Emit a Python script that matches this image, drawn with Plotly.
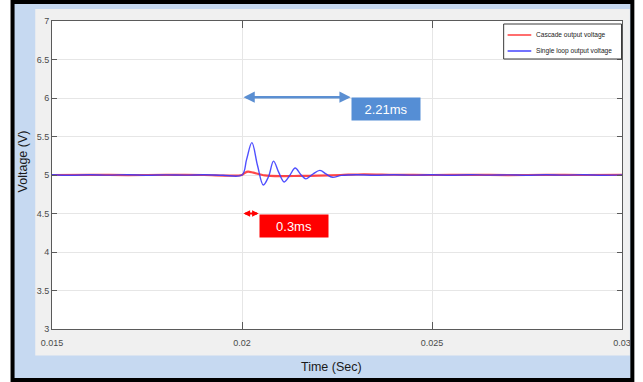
import plotly.graph_objects as go

# ---------------- data ----------------
t_single = [0.0150, 0.0155, 0.0160, 0.0165, 0.0170, 0.0175, 0.0180, 0.0185, 0.0190, 0.0195,
            0.02000, 0.02012, 0.02026, 0.02041, 0.02056, 0.02070, 0.02083, 0.02097, 0.02111,
            0.02125, 0.02140, 0.02154, 0.02168, 0.02186, 0.02205, 0.02222, 0.02238, 0.02262,
            0.0230, 0.0235, 0.0240, 0.0245, 0.0250, 0.0255, 0.0260, 0.0265, 0.0270, 0.0275,
            0.0280, 0.0285, 0.0290, 0.0295, 0.0300]
v_single = [5.004, 4.997, 5.003, 4.998, 5.004, 4.997, 5.002, 4.998, 5.003, 4.997,
            5.000, 5.200, 5.420, 5.120, 4.870, 4.980, 5.180, 5.030, 4.910,
            4.990, 5.090, 5.010, 4.950, 5.010, 5.060, 5.010, 4.970, 4.995,
            5.004, 4.997, 5.003, 4.998, 5.003, 4.997, 5.004, 4.998, 5.002, 4.997,
            5.003, 4.998, 5.004, 4.997, 5.002]

t_cascade = [0.0150, 0.0160, 0.0170, 0.0180, 0.0190, 0.02000, 0.02008, 0.02016, 0.0203,
             0.0206, 0.0210, 0.0215, 0.0220, 0.0226, 0.0232, 0.0240, 0.0250, 0.0260,
             0.0270, 0.0280, 0.0290, 0.0300]
v_cascade = [5.000, 5.002, 4.999, 5.001, 5.000, 5.000, 5.030, 5.045, 5.030,
             4.995, 4.985, 4.988, 4.992, 5.000, 5.010, 5.003, 5.000, 5.002,
             4.999, 5.001, 5.000, 5.001]

series_names = ["Cascade output voltage", "Single loop output voltage"]
x_ticks = [0.015, 0.02, 0.025, 0.03]
x_tick_labels = ["0.015", "0.02", "0.025", "0.03"]
y_ticks = [3, 3.5, 4, 4.5, 5, 5.5, 6, 6.5, 7]
y_tick_labels = ["3", "3.5", "4", "4.5", "5", "5.5", "6", "6.5", "7"]

single_span = [0.02, 0.02286]   # blue arrow ends (s)
single_level = 6.01
single_label = "2.21ms"
cascade_span = [0.02, 0.02044]  # red arrow ends (s)
cascade_level = 4.50
cascade_label = "0.3ms"

# ---------------- figure ----------------
W, H = 643, 382
L, R, T, B = 52, 13, 21, 53
PW, PH = W - L - R, H - T - B


def px_x(p):
    return (p - L) / PW


def px_y(p):
    return (H - B - p) / PH


SANS = "Liberation Sans, Arial, sans-serif"
RED_LINE = "rgba(255,40,40,0.85)"
BLUE_LINE = "rgba(60,60,255,0.9)"
series_colors = [RED_LINE, BLUE_LINE]

fig = go.Figure()
fig.add_trace(go.Scatter(x=t_cascade, y=v_cascade, mode="lines", name=series_names[0],
                         showlegend=False,
                         line=dict(color=RED_LINE, width=2.2, shape="spline", smoothing=0.8)))
fig.add_trace(go.Scatter(x=t_single, y=v_single, mode="lines", name=series_names[1],
                         showlegend=False,
                         line=dict(color=BLUE_LINE, width=1.4, shape="spline", smoothing=1.0)))

shapes = [
    # outer frame (light blue with black border)
    dict(type="rect", xref="paper", yref="paper", layer="below",
         x0=px_x(12), x1=px_x(640.5), y0=px_y(380), y1=px_y(2),
         fillcolor="#c6d9f1", line=dict(color="black", width=4)),
    # gray panel
    dict(type="rect", xref="paper", yref="paper", layer="below",
         x0=px_x(35), x1=px_x(638), y0=px_y(355.5), y1=px_y(9),
         fillcolor="#f0f0f0", line=dict(width=0)),
    # white axes area
    dict(type="rect", xref="paper", yref="paper", layer="below",
         x0=0, x1=1, y0=0, y1=1, fillcolor="white", line=dict(width=0)),
    # legend box
    dict(type="rect", xref="paper", yref="paper", layer="above",
         x0=px_x(510), x1=px_x(629.5), y0=px_y(59), y1=px_y(24),
         fillcolor="white", line=dict(color="#3a3a3a", width=1)),
]

annotations = []
legend_rows_y = [35, 51]
for name, col, ry in zip(series_names, series_colors, legend_rows_y):
    shapes.append(dict(type="line", xref="paper", yref="paper", layer="above",
                       x0=px_x(514), x1=px_x(538), y0=px_y(ry), y1=px_y(ry),
                       line=dict(color=col, width=1.6)))
    annotations.append(dict(x=px_x(541), y=px_y(ry), xref="paper", yref="paper",
                            text=name, showarrow=False, xanchor="left", yanchor="middle",
                            font=dict(family=SANS, size=6.6, color="#222")))

BLUE = "#5b8fd2"
annotations += [
    dict(x=single_span[1], y=single_level, ax=single_span[0], ay=single_level,
         xref="x", yref="y", axref="x", ayref="y", text="", showarrow=True,
         arrowside="end+start", arrowhead=2, arrowsize=0.9, arrowwidth=2.5, arrowcolor=BLUE),
    dict(x=single_span[1], y=single_level, xref="x", yref="y", xanchor="left", yanchor="top",
         text=single_label, showarrow=False, bgcolor="#558ed5", width=68, height=22,
         borderpad=0, font=dict(family=SANS, size=13, color="white")),
    dict(x=cascade_span[1], y=cascade_level, ax=cascade_span[0], ay=cascade_level,
         xref="x", yref="y", axref="x", ayref="y", text="", showarrow=True,
         arrowside="end+start", arrowhead=2, arrowsize=0.6, arrowwidth=2.2, arrowcolor="#ff0000"),
    dict(x=cascade_span[1], y=cascade_level, xref="x", yref="y", xanchor="left", yanchor="top",
         text=cascade_label, showarrow=False, bgcolor="#ff0000", width=68, height=22,
         borderpad=0, font=dict(family=SANS, size=13, color="white")),
    # axis titles
    dict(x=px_x(335), y=px_y(367), xref="paper", yref="paper", text="Time (Sec)",
         showarrow=False, xanchor="center", yanchor="middle",
         font=dict(family=SANS, size=12.5, color="#1a1a1a")),
    dict(x=px_x(23), y=px_y(161), xref="paper", yref="paper", text="Voltage (V)",
         showarrow=False, xanchor="center", yanchor="middle", textangle=-90,
         font=dict(family=SANS, size=12.5, color="#1a1a1a")),
]

fig.update_layout(
    width=W, height=H,
    margin=dict(l=L, r=R, t=T, b=B, pad=0),
    paper_bgcolor="white", plot_bgcolor="white",
    shapes=shapes, annotations=annotations,
    showlegend=False,
)

fig.update_xaxes(range=[0.015, 0.03], tickvals=x_ticks, ticktext=x_tick_labels,
                 showgrid=True, gridcolor="#e6e6e6", gridwidth=1, zeroline=False,
                 showline=True, linecolor="#5a5a5a", linewidth=1, mirror="ticks",
                 ticks="inside", ticklen=7, tickcolor="#5a5a5a", ticklabelstandoff=5,
                 tickfont=dict(family=SANS, size=9, color="#4a4a4a"))
fig.update_yaxes(range=[3, 7], tickvals=y_ticks, ticktext=y_tick_labels,
                 showgrid=True, gridcolor="#e6e6e6", gridwidth=1, zeroline=False,
                 showline=True, linecolor="#5a5a5a", linewidth=1, mirror="ticks",
                 ticks="inside", ticklen=5, tickcolor="#5a5a5a",
                 tickfont=dict(family=SANS, size=9, color="#4a4a4a"))

fig.write_html(
    "out.html", config={"displayModeBar": False},
    post_script=("document.documentElement.style.margin='0px';"
                 "document.documentElement.style.overflow='hidden';"
                 "document.body.style.margin='0px';"
                 "document.body.style.overflow='hidden';"))
